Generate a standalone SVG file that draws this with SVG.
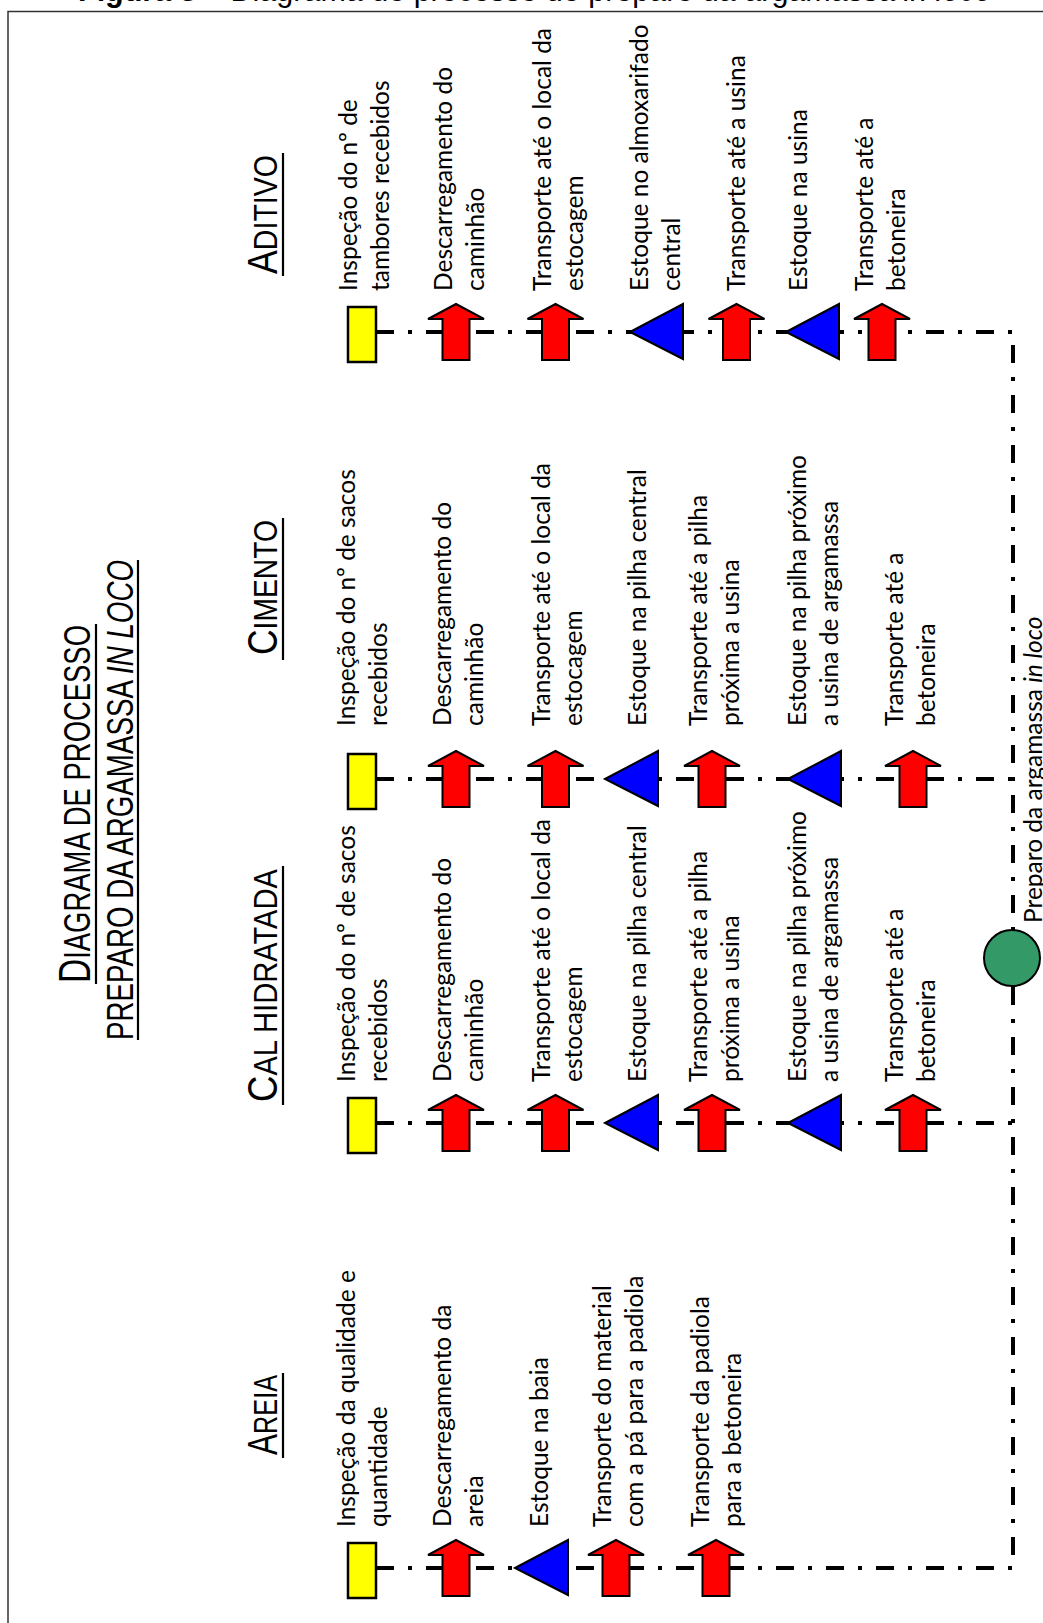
<svg xmlns="http://www.w3.org/2000/svg" width="1043" height="1623" viewBox="0 0 1043 1623">
<style>
.lbl{font-family:Lato,"Open Sans","DejaVu Sans",sans-serif;font-size:24.5px;fill:#000}
.hdr{font-family:"Liberation Sans",Arial,sans-serif;font-size:33.5px;fill:#000}
.ttl{font-family:"Liberation Sans",Arial,sans-serif;font-size:36px;fill:#000}
.cap{font-family:"Liberation Sans",Arial,sans-serif;font-size:30.5px;fill:#000}
.ul{stroke:#000;stroke-width:2.2;fill:none}
.flow{stroke:#000;stroke-width:4;fill:none;stroke-dasharray:18 14 4 14}
.insp{fill:#FFFF00;stroke:#000;stroke-width:2.5}
.arr{fill:#FF0000;stroke:#000;stroke-width:2}
.stk{fill:#0000FF;stroke:#000;stroke-width:2}
.op{fill:#339966;stroke:#000;stroke-width:2}
</style>
<defs>
<rect id="r" x="0" y="-25" width="28" height="55" class="insp"/>
<path id="a" d="M0,-28 L28,-13 L13.5,-13 L13.5,28 L-13.5,28 L-13.5,-13 L-28,-13 Z" class="arr"/>
<path id="t" d="M0,0 L53,-28 L53,27 Z" class="stk"/>
</defs>
<rect x="8" y="11.5" width="1200" height="1800" fill="none" stroke="#333" stroke-width="1.5"/>
<text class="cap" x="78" y="0.5"><tspan font-weight="bold">Figura 3</tspan> – Diagrama de processo de preparo da argamassa <tspan font-style="italic">in loco</tspan></text>

<g id="title">
<text class="ttl" transform="translate(90,983) rotate(-90)" textLength="358" lengthAdjust="spacingAndGlyphs"><tspan font-size="44">D</tspan>IAGRAMA DE PROCESSO</text>
<line class="ul" x1="96" y1="984" x2="96" y2="624"/>
<text class="ttl" transform="translate(133,1040) rotate(-90)" textLength="480" lengthAdjust="spacingAndGlyphs">PREPARO DA ARGAMASSA <tspan font-style="italic">IN LOCO</tspan></text>
<line class="ul" x1="138" y1="1040" x2="138" y2="560"/>
</g>

<g id="headers">
<text class="hdr" transform="translate(277,274) rotate(-90)" textLength="119" lengthAdjust="spacingAndGlyphs"><tspan font-size="42">A</tspan>DITIVO</text>
<line class="ul" x1="283" y1="276" x2="283" y2="153"/>
<text class="hdr" transform="translate(277,655) rotate(-90)" textLength="135" lengthAdjust="spacingAndGlyphs"><tspan font-size="42">C</tspan>IMENTO</text>
<line class="ul" x1="283" y1="660" x2="283" y2="518"/>
<text class="hdr" transform="translate(277,1102) rotate(-90)" textLength="233" lengthAdjust="spacingAndGlyphs"><tspan font-size="42">C</tspan>AL HIDRATADA</text>
<line class="ul" x1="283" y1="1105" x2="283" y2="866"/>
<text class="hdr" transform="translate(277,1455) rotate(-90)" textLength="80" lengthAdjust="spacingAndGlyphs"><tspan font-size="42">A</tspan>REIA</text>
<line class="ul" x1="283" y1="1458" x2="283" y2="1373"/>
</g>

<g id="connectors">
<path class="flow" d="M376,332 H1013 V930"/>
<path class="flow" d="M376,779 H1013"/>
<path class="flow" d="M376,1123 H1013"/>
<path class="flow" d="M376,1568 H1013 V986"/>
</g>

<g id="aditivo">
<g id="ad1"><use href="#r" x="348" y="332"/><text class="lbl" transform="translate(357,291) rotate(-90)"><tspan x="0" y="0">Inspeção do nº de</tspan><tspan x="0" y="32">tambores recebidos</tspan></text></g>
<g id="ad2"><use href="#a" x="456" y="332"/><text class="lbl" transform="translate(452,291) rotate(-90)"><tspan x="0" y="0">Descarregamento do</tspan><tspan x="0" y="32">caminhão</tspan></text></g>
<g id="ad3"><use href="#a" x="555.5" y="332"/><text class="lbl" transform="translate(551,291) rotate(-90)"><tspan x="0" y="0">Transporte até o local da</tspan><tspan x="0" y="32">estocagem</tspan></text></g>
<g id="ad4"><use href="#t" x="630" y="332"/><text class="lbl" transform="translate(648,291) rotate(-90)"><tspan x="0" y="0">Estoque no almoxarifado</tspan><tspan x="0" y="32">central</tspan></text></g>
<g id="ad5"><use href="#a" x="736.5" y="332"/><text class="lbl" transform="translate(745,291) rotate(-90)">Transporte até a usina</text></g>
<g id="ad6"><use href="#t" x="786" y="332"/><text class="lbl" transform="translate(807,291) rotate(-90)">Estoque na usina</text></g>
<g id="ad7"><use href="#a" x="882" y="332"/><text class="lbl" transform="translate(873,291) rotate(-90)"><tspan x="0" y="0">Transporte até a</tspan><tspan x="0" y="32">betoneira</tspan></text></g>
</g>

<g id="cimento">
<g id="ci1"><use href="#r" x="348" y="779"/><text class="lbl" transform="translate(355,726) rotate(-90)"><tspan x="0" y="0">Inspeção do nº de sacos</tspan><tspan x="0" y="32">recebidos</tspan></text></g>
<g id="ci2"><use href="#a" x="456" y="779"/><text class="lbl" transform="translate(451,726) rotate(-90)"><tspan x="0" y="0">Descarregamento do</tspan><tspan x="0" y="32">caminhão</tspan></text></g>
<g id="ci3"><use href="#a" x="555.5" y="779"/><text class="lbl" transform="translate(550,726) rotate(-90)"><tspan x="0" y="0">Transporte até o local da</tspan><tspan x="0" y="32">estocagem</tspan></text></g>
<g id="ci4"><use href="#t" x="605" y="779"/><text class="lbl" transform="translate(646,726) rotate(-90)">Estoque na pilha central</text></g>
<g id="ci5"><use href="#a" x="712" y="779"/><text class="lbl" transform="translate(707,726) rotate(-90)"><tspan x="0" y="0">Transporte até a pilha</tspan><tspan x="0" y="32">próxima a usina</tspan></text></g>
<g id="ci6"><use href="#t" x="788" y="779"/><text class="lbl" transform="translate(806,726) rotate(-90)"><tspan x="0" y="0">Estoque na pilha próximo</tspan><tspan x="0" y="32">a usina de argamassa</tspan></text></g>
<g id="ci7"><use href="#a" x="913" y="779"/><text class="lbl" transform="translate(903,726) rotate(-90)"><tspan x="0" y="0">Transporte até a</tspan><tspan x="0" y="32">betoneira</tspan></text></g>
</g>

<g id="cal">
<g id="ca1"><use href="#r" x="348" y="1123"/><text class="lbl" transform="translate(355,1082) rotate(-90)"><tspan x="0" y="0">Inspeção do nº de sacos</tspan><tspan x="0" y="32">recebidos</tspan></text></g>
<g id="ca2"><use href="#a" x="456" y="1123"/><text class="lbl" transform="translate(451,1082) rotate(-90)"><tspan x="0" y="0">Descarregamento do</tspan><tspan x="0" y="32">caminhão</tspan></text></g>
<g id="ca3"><use href="#a" x="555.5" y="1123"/><text class="lbl" transform="translate(550,1082) rotate(-90)"><tspan x="0" y="0">Transporte até o local da</tspan><tspan x="0" y="32">estocagem</tspan></text></g>
<g id="ca4"><use href="#t" x="605" y="1123"/><text class="lbl" transform="translate(646,1082) rotate(-90)">Estoque na pilha central</text></g>
<g id="ca5"><use href="#a" x="712" y="1123"/><text class="lbl" transform="translate(707,1082) rotate(-90)"><tspan x="0" y="0">Transporte até a pilha</tspan><tspan x="0" y="32">próxima a usina</tspan></text></g>
<g id="ca6"><use href="#t" x="788" y="1123"/><text class="lbl" transform="translate(806,1082) rotate(-90)"><tspan x="0" y="0">Estoque na pilha próximo</tspan><tspan x="0" y="32">a usina de argamassa</tspan></text></g>
<g id="ca7"><use href="#a" x="913" y="1123"/><text class="lbl" transform="translate(903,1082) rotate(-90)"><tspan x="0" y="0">Transporte até a</tspan><tspan x="0" y="32">betoneira</tspan></text></g>
</g>

<g id="areia">
<g id="ar1"><use href="#r" x="348" y="1568"/><text class="lbl" transform="translate(355,1527) rotate(-90)"><tspan x="0" y="0">Inspeção da qualidade e</tspan><tspan x="0" y="32">quantidade</tspan></text></g>
<g id="ar2"><use href="#a" x="456" y="1568"/><text class="lbl" transform="translate(451,1527) rotate(-90)"><tspan x="0" y="0">Descarregamento da</tspan><tspan x="0" y="32">areia</tspan></text></g>
<g id="ar3"><use href="#t" x="515" y="1568"/><text class="lbl" transform="translate(548,1527) rotate(-90)">Estoque na baia</text></g>
<g id="ar4"><use href="#a" x="616" y="1568"/><text class="lbl" transform="translate(611,1527) rotate(-90)"><tspan x="0" y="0">Transporte do material</tspan><tspan x="0" y="32">com a pá para a padiola</tspan></text></g>
<g id="ar5"><use href="#a" x="716" y="1568"/><text class="lbl" transform="translate(709,1527) rotate(-90)"><tspan x="0" y="0">Transporte da padiola</tspan><tspan x="0" y="32">para a betoneira</tspan></text></g>
</g>

<g id="preparo">
<circle class="op" cx="1012" cy="958" r="28"/>
<text class="lbl" transform="translate(1042,923) rotate(-90)">Preparo da argamassa <tspan font-style="italic">in loco</tspan></text>
</g>
</svg>
